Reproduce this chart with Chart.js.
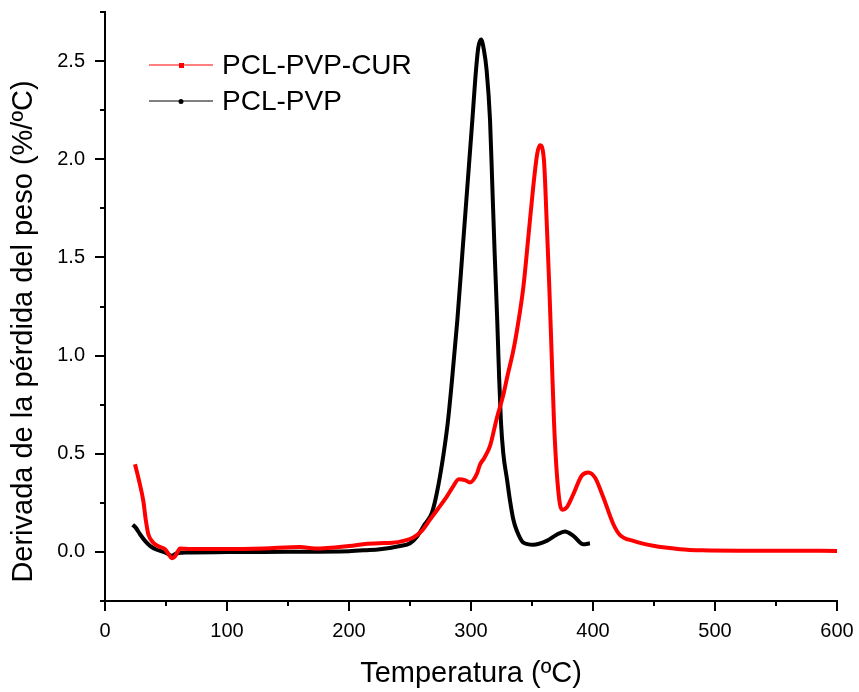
<!DOCTYPE html>
<html>
<head>
<meta charset="utf-8">
<script src="https://cdn.jsdelivr.net/npm/chart.js@4"></script>
<style>
	body { margin: 0; background: #fff; }
	canvas { display: block; }
</style>
</head>
<body>
<canvas id="dtg-chart" width="859" height="692"></canvas>
<script>
// PCL-PVP-CUR (red)
const tempCur = [24.6, 28, 31.4, 33.5, 35.5, 39.6, 44, 49.2, 52, 54.6, 57, 60, 61.5, 70, 100, 130, 160, 172, 200, 215, 225, 240,
	252.7, 260, 266.4, 273, 280, 285, 290, 295, 299.2, 304.7, 307.4, 311, 315.6, 321.1, 326.5, 330, 334.5, 338, 342.9, 347,
	351, 354.3, 356.6, 359.8, 362, 364.2, 366.1, 368, 370.2, 372.9, 375, 378.4, 383.9, 390.7, 396.1, 401.6, 408.5, 416.7,
	422, 433, 449.4, 471.3, 490, 520, 560, 600];
const derivCur = [0.447, 0.36, 0.26, 0.16, 0.09, 0.047, 0.028, 0.014, -0.01, -0.032, -0.025, 0.005, 0.017, 0.015, 0.015, 0.018, 0.025, 0.017, 0.03, 0.042, 0.044, 0.05,
	0.073, 0.11, 0.165, 0.22, 0.28, 0.33, 0.37, 0.366, 0.354, 0.396, 0.445, 0.48, 0.54, 0.68, 0.8, 0.9, 1.02, 1.14, 1.348, 1.604,
	1.859, 2.029, 2.071, 1.995, 1.689, 1.348, 1.009, 0.668, 0.413, 0.243, 0.215, 0.226, 0.294, 0.388, 0.405, 0.379, 0.277, 0.141,
	0.087, 0.056, 0.031, 0.014, 0.008, 0.006, 0.006, 0.005];

// PCL-PVP (black)
const tempPvp = [22.7, 25, 28.7, 33, 36.9, 42, 49.2, 52, 54.6, 56.5, 58.7, 63, 67, 100, 150, 200, 214.5, 225.4, 242, 250, 256,
	262, 268, 272, 277.3, 281, 284.2, 288.8, 292.9, 297, 301.1, 304.1, 306, 308.2, 310.5, 312.8, 315.6, 317.5, 319.4, 321.5,
	323, 324.5, 326.5, 329.5, 332, 334.7, 337.4, 342.9, 351, 362, 370.2, 377, 383.9, 392, 397.5];
const derivPvp = [0.138, 0.125, 0.09, 0.055, 0.031, 0.012, -0.003, -0.012, -0.02, -0.015, -0.008, -0.004, -0.003, -0.001, 0.001, 0.004, 0.009, 0.014, 0.03, 0.044, 0.08,
	0.14, 0.2, 0.3, 0.49, 0.66, 0.86, 1.18, 1.519, 1.859, 2.199, 2.454, 2.57, 2.61, 2.56, 2.454, 2.2, 1.86, 1.52, 1.18,
	0.9, 0.668, 0.5, 0.37, 0.26, 0.165, 0.11, 0.047, 0.036, 0.056, 0.087, 0.104, 0.082, 0.039, 0.044];

const seriesNames = ['PCL-PVP-CUR', 'PCL-PVP'];
const seriesColors = ['#ff0000', '#000000'];

const xTitle = 'Temperatura (ºC)';
const yTitle = 'Derivada de la pérdida del peso (%/ºC)';

const FONT = 'Arial, "Liberation Sans", sans-serif';

const toPoints = (xs, ys) => xs.map((x, i) => ({ x: x, y: ys[i] }));

// no extra room for half labels at the ends of the axes
const noEdgePadding = (s) => {
	s.paddingTop = 0;
	s.paddingBottom = 0;
	s.paddingLeft = 0;
	s.paddingRight = 0;
};

// Origin style outward ticks, y title and legend
const originDecor = {
	id: 'originDecor',
	afterDraw: (chart) => {
		const ctx = chart.ctx;
		const area = chart.chartArea;
		const xs = chart.scales.x;
		const ys = chart.scales.y;
		ctx.save();
		ctx.strokeStyle = '#000';
		ctx.lineWidth = 2;
		ctx.beginPath();
		xs.ticks.forEach((t) => {
			let px = Math.round(xs.getPixelForValue(t.value));
			let len = (Math.abs(t.value % 100) < 1e-6) ? 10 : 5;
			ctx.moveTo(px, area.bottom);
			ctx.lineTo(px, area.bottom + len);
		});
		ys.ticks.forEach((t) => {
			let py = Math.round(ys.getPixelForValue(t.value));
			let major = Math.abs(t.value * 2 - Math.round(t.value * 2)) < 1e-6;
			ctx.moveTo(area.left, py);
			ctx.lineTo(area.left - (major ? 10 : 5), py);
		});
		ctx.stroke();

		// y axis title
		ctx.fillStyle = '#000';
		ctx.font = '29px ' + FONT;
		ctx.textAlign = 'center';
		ctx.textBaseline = 'middle';
		ctx.translate(24, (area.top + area.bottom) / 2 + 25);
		ctx.rotate(-Math.PI / 2);
		ctx.fillText(yTitle, 0, 0);
		ctx.restore();

		// legend
		ctx.save();
		ctx.font = '28px ' + FONT;
		ctx.textAlign = 'left';
		ctx.textBaseline = 'middle';
		let rows = [65, 101];
		chart.data.datasets.forEach((ds, i) => {
			let y = rows[i];
			ctx.strokeStyle = ds.borderColor;
			ctx.lineWidth = 1;
			ctx.beginPath();
			ctx.moveTo(149, y);
			ctx.lineTo(213, y);
			ctx.stroke();
			ctx.fillStyle = ds.borderColor;
			if (i === 0) {
				ctx.fillRect(179, y - 2, 5, 5);
			} else {
				ctx.beginPath();
				ctx.arc(181, y + 0.5, 2.5, 0, Math.PI * 2);
				ctx.fill();
			}
			ctx.fillStyle = '#000';
			ctx.fillText(ds.label, 222, y + 1);
		});
		ctx.restore();
	}
};

const datasets = [
	{ label: seriesNames[0], data: toPoints(tempCur, derivCur), borderColor: seriesColors[0] },
	{ label: seriesNames[1], data: toPoints(tempPvp, derivPvp), borderColor: seriesColors[1] }
].map((d) => Object.assign(d, {
	borderWidth: 4,
	pointRadius: 0,
	fill: false,
	cubicInterpolationMode: 'monotone'
}));

new Chart(document.getElementById('dtg-chart'), {
	type: 'line',
	data: { datasets: datasets },
	plugins: [originDecor],
	options: {
		responsive: false,
		animation: false,
		layout: { padding: { top: 12, right: 22, bottom: 0, left: 0 } },
		plugins: {
			legend: { display: false },
			tooltip: { enabled: false }
		},
		scales: {
			x: {
				type: 'linear',
				min: 0,
				max: 600,
				afterFit: (s) => { s.height = 91; noEdgePadding(s); },
				grid: { display: false, drawTicks: false },
				border: { display: true, color: '#000', width: 2 },
				ticks: {
					stepSize: 50,
					autoSkip: false,
					maxRotation: 0,
					padding: 18,
					color: '#000',
					font: { family: FONT, size: 20 },
					callback: (v) => (v % 100 === 0 ? String(v) : '')
				},
				title: {
					display: true,
					text: xTitle,
					color: '#000',
					font: { family: FONT, size: 29 },
					padding: { top: 0, bottom: 1 }
				}
			},
			y: {
				min: -0.25,
				max: 2.75,
				afterFit: (s) => { s.width = 105; noEdgePadding(s); },
				grid: { display: false, drawTicks: false },
				border: { display: true, color: '#000', width: 2 },
				ticks: {
					stepSize: 0.25,
					autoSkip: false,
					padding: 20,
					color: '#000',
					font: { family: FONT, size: 20 },
					callback: (v) => (Math.abs(v * 2 - Math.round(v * 2)) < 1e-6 ? v.toFixed(1) : '')
				}
			}
		}
	}
});
</script>
</body>
</html>
